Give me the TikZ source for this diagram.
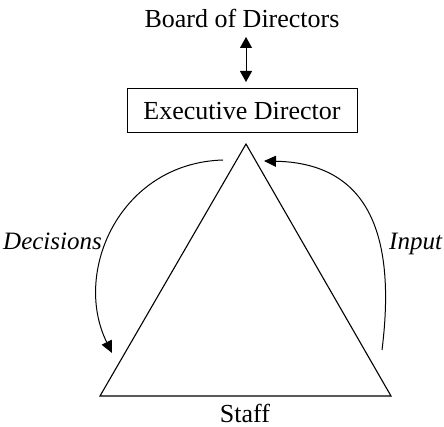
\documentclass[tikz,border=0pt]{standalone}
\usepackage{fontspec}
\setmainfont{Liberation Serif}
\usetikzlibrary{arrows.meta}
\begin{document}
\begin{tikzpicture}[x=1pt,y=-1pt,
  lbl/.style={inner sep=0pt, font=\fontsize{26}{30}\selectfont},
  ilbl/.style={inner sep=0pt, font=\fontsize{25}{30}\selectfont\itshape},
  boxst/.style={draw, line width=1pt, inner sep=0pt, minimum width=230pt, minimum height=44pt, font=\fontsize{26}{30}\selectfont},
  tri/.style={line width=1.1pt, line join=miter},
  conn/.style={line width=1pt, -{Triangle[length=12pt,width=11pt]}},
  dconn/.style={line width=1pt, {Triangle[length=11pt,width=12pt]}-{Triangle[length=11pt,width=12pt]}}
]
\useasboundingbox (0,0) rectangle (444,427);
\node[lbl, anchor=base] (board) at (242,28) {Board of Directors};
\node[boxst] (exec) at (242,111) {Executive Director};
\coordinate (da) at (246,37);
\coordinate (db) at (246,82);
\draw[dconn] (da) -- (db);
\coordinate (apex) at (246,144);
\coordinate (bl) at (100,396);
\coordinate (br) at (391,396);
\draw[tri] (apex) -- (br) -- (bl) -- cycle;
\node[lbl, anchor=base] (staff) at (245,422) {Staff};
\coordinate (ds) at (223,160);
\coordinate (de) at (112,353);
\draw[conn] (ds) .. controls (120,163) and (72,272) .. (de);
\coordinate (is) at (382,350);
\coordinate (ie) at (264,161);
\draw[conn] (is) .. controls (398,222) and (360,163) .. (ie);
\node[ilbl, anchor=base east] (dec) at (102,250) {Decisions};
\node[ilbl, anchor=base west] (inp) at (389,250) {Input};
\end{tikzpicture}
\end{document}
